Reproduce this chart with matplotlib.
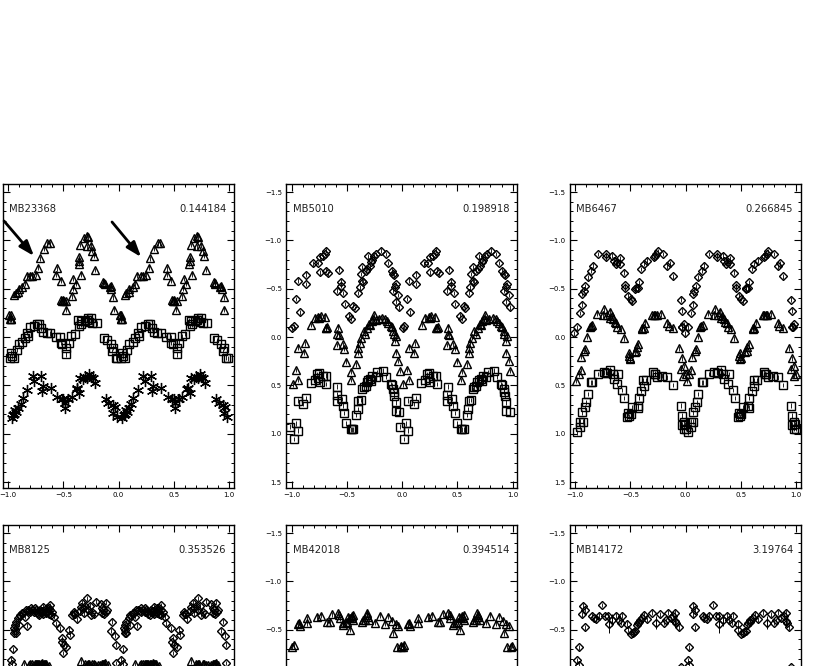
import matplotlib
matplotlib.use("Agg")
import numpy as np
import matplotlib.pyplot as plt
from matplotlib.ticker import MultipleLocator

# MB23368
a_tri_p = [.054, .069, .09, .099, .13, .151, .169, .199, .22, .25, .274, .289, .325, .355, .376,
           .44, .437, .476, .482, .506, .527, .521, .575, .584, .59, .611, .642, .639, .66, .651,
           .687, .711, .723, .711, .747, .762, .777, .789, .861, .873, .922, .934, .952, .958,
           .012, .024, .024, .018, .03, .49, .5, .645, .87, .93]
a_tri_m = [-.436, -.457, -.464, -.498, -.515, -.55, -.636, -.636, -.636, -.643, -.715, -.814, -.911, -.969, -.969,
           -.711, -.646, -.584, -.378, -.375, -.368, -.282, -.423, -.498, -.601, -.55, -.825, -.756, -.646, -.952,
           -1.02, -1.048, -1.03, -.938, -.945, -.893, -.842, -.694, -.574, -.55, -.515, -.498, -.412, -.282,
           -.223, -.223, -.182, -.182, -.19, -.37, -.38, -.79, -.56, -.53]
a_sq_p = [.018, .054, .03, .078, .099, .13, .151, .175, .181, .199, .235, .265, .28, .301, .319, .349, .38,
          .431, .47, .476, .491, .527, .527, .551, .572, .602, .642, .633, .657, .693, .723, .747, .762, .801,
          .867, .892, .928, .952, .943, .973, .988, .04, .71, .735, .66]
a_sq_m = [.214, .214, .162, .134, .076, .048, .007, -.045, -.01, -.103, -.114, -.131, -.131, -.09, -.055, -.038, -.038,
          0, 0, .059, .076, .11, .179, .059, -.01, -.034, -.114, -.172, -.166, -.166, -.2, -.193, -.148, -.141,
          .014, .034, .076, .11, .145, .214, .221, .2, -.175, -.16, -.13]
a_star_p = [.033, .054, .072, .093, .114, .133, .175, .223, .238, .295, .313, .304, .386, .446, .485, .515, .515,
            .545, .575, .627, .645, .651, .681, .717, .735, .765, .786, .886, .907, .946, .967, .952, .982,
            .045, .065, .62, .7, .75, .5]
a_star_m = [.834, .8, .776, .731, .697, .628, .548, .403, .455, .403, .507, .559, .531, .621, .638, .679, .731,
            .645, .621, .524, .576, .421, .431, .428, .386, .421, .472, .638, .679, .707, .72, .79, .824,
            .81, .76, .54, .41, .41, .64]

# MB5010
b_dia_p = [.006, .021, .042, .076, .06, .127, .127, .196, .239, .257, .284, .308, .302, .254, .314, .332,
           .408, .429, .444, .444, .468, .48, .52, .538, .559, .574, .604, .619, .625, .64, .65, .64, .686, .692,
           .707, .746, .767, .807, .852, .876, .906, .918, .927, .918, .949, .937, .967, .943, .973,
           .67, .72, .73]
b_dia_m = [-.09, -.11, -.393, -.255, -.583, -.645, -.548, -.762, -.766, -.824, -.834, -.893, -.859, -.669, -.686, -.659,
           -.479, -.697, -.572, -.531, -.455, -.341, -.221, -.186, -.324, -.3, -.455, -.514, -.652, -.583, -.572, -.721, -.703, -.834,
           -.738, -.841, -.859, -.893, -.859, -.766, -.686, -.652, -.641, -.479, -.548, -.521, -.434, -.366, -.307,
           -.686, -.78, -.8]
b_tri_p = [.012, .042, .06, .06, .121, .109, .178, .211, .242, .263, .302, .308, .323, .42, .414, .429, .408, .465, .477,
           .495, .541, .535, .586, .604, .604, .616, .665, .686, .701, .725, .746, .761, .822, .846, .876, .897, .918,
           .937, .943, .949, .967, .979, .63, .655, .71, .74, .79, .86, .905, .925, .25, .315]
b_tri_m = [.49, .341, .445, .11, .066, .162, -.124, -.2, -.207, -.217, -.21, -.097, -.103, -.097, -.034, -.017, .083, .076, .121,
           .255, .359, .445, .283, .162, .11, .059, -.028, -.097, -.131, -.166, -.228, -.176, -.193, -.183, -.148, -.114, -.062,
           .041, .162, -.01, .248, .352, .01, -.06, -.12, -.19, -.19, -.17, -.1, -.03, -.2, -.09]
b_sq_p = [-.018, .021, .036, .057, .057, .106, .127, .175, .211, .227, .248, .254, .284, .308, .314, .414, .411, .408,
          .453, .465, .477, .495, .535, .556, .586, .601, .604, .625, .64, .67, .695, .731, .761, .776, .828, .858,
          .897, .918, .927, .943, .943, .973, .68, .71, .72, .655, .905, .925, .545, .24]
b_sq_m = [.928, 1.055, .893, .969, .659, .693, .631, .476, .445, .383, .372, .469, .4, .4, .486, .514, .597, .659,
          .641, .71, .786, .893, .955, .955, .807, .745, .659, .652, .538, .503, .445, .4, .417, .366, .348, .41,
          .486, .538, .607, .676, .762, .779, .47, .43, .46, .52, .5, .57, .955, .42]

# MB6467
c_dia_p = [-.006, .018, .048, .063, .063, .079, .094, .115, .145, .163, .208, .281, .284, .335, .35, .381, .405, .405,
           .441, .456, .456, .48, .502, .517, .547, .568, .577, .598, .622, .653, .713, .737, .749, .798, .834, .858,
           .885, .955, .964, .964, .985, .97, .55, .37, .72]
c_dia_m = [-.038, -.1, -.248, -.334, -.445, -.479, -.524, -.617, -.686, -.738, -.859, -.859, -.824, -.841, -.79, -.772, -.755, -.817,
           -.666, -.538, -.503, -.428, -.393, -.369, -.497, -.503, -.566, -.703, -.755, -.79, -.831, -.859, -.886, -.859, -.731, -.762,
           -.628, -.386, -.272, -.107, -.134, -.1, -.51, -.76, -.84]
c_tri_p = [.012, .033, .051, .057, .082, .094, .109, .133, .154, .202, .254, .263, .314, .32, .344, .375, .384, .414, .441,
           .486, .495, .556, .571, .607, .637, .698, .728, .776, .834, .849, .882, .94, .964, .958, .985, 1.0, .979,
           .14, .49, .5, .54, .56, .71, .74, .62, .61, .29, .33, .36]
c_tri_m = [.455, .386, .341, .207, .145, .128, 0, -.103, -.121, -.241, -.224, -.286, -.262, -.2, -.183, -.148, -.103, -.079, .014,
           .197, .231, .145, .076, -.097, -.148, -.228, -.228, -.234, -.148, -.114, -.09, .117, .221, .334, .3, .386, .403,
           -.11, .17, .22, .16, .1, -.23, -.23, -.09, -.08, -.23, -.22, -.16]
c_sq_p = [.018, .048, .048, .069, .063, .088, .103, .115, .148, .208, .26, .29, .32, .341, .35, .39, .381, .426, .447,
          .471, .502, .517, .568, .577, .598, .616, .643, .622, .707, .728, .743, .789, .834, .885, .955, .964, .964,
          .985, 1.0, .985, .994, .49, .48, .155, .28, .72, .57]
c_sq_m = [.986, .928, .876, .876, .779, .728, .676, .59, .469, .383, .366, .372, .338, .383, .434, .383, .486, .548, .631,
          .831, .797, .728, .71, .631, .555, .445, .445, .503, .366, .383, .417, .4, .417, .497, .71, .814, .907,
          .883, .952, .95, .9, .82, .79, .47, .37, .38, .73]

# MB8125
d_dia_p = [.024, .039, .042, .06, .069, .06, .1, .108, .139, .151, .169, .19, .205, .235, .25, .28, .295, .319, .34, .38, .37,
           .386, .416, .431, .47, .491, .485, .506, .527, .497, .551, .56, .581, .596, .62, .657, .672, .717, .687, .723,
           .747, .741, .792, .837, .852, .883, .898, .943, .928, .964, .973, .973,
           .11, .13, .16, .2, .22, .26, .27, .31, .33, .35, .36, .37, .4, .6, .7, .76, .78, .86, .87, .89,
           .07, .09, .18, .24, .29, .32, .345, .38, .05, .055, .61, .65, .68, .85]
d_dia_m = [-.19, -.148, -.299, -.498, -.464, -.55, -.55, -.653, -.67, -.636, -.54, -.698, -.722, -.687, -.704, -.653, -.687, -.739, -.687, -.756, -.722,
           -.653, -.636, -.567, -.515, -.412, -.368, -.344, -.326, -.258, -.498, -.447, -.653, -.687, -.608, -.739, -.78, -.825, -.67, -.704,
           -.653, -.746, -.79, -.766, -.67, -.78, -.704, -.584, -.488, -.436, -.344, -.155,
           -.64, -.67, -.7, -.68, -.7, -.68, -.66, -.69, -.7, -.72, -.69, -.66, -.68, -.66, -.74, -.68, -.66, -.7, -.66, -.68,
           -.58, -.62, -.7, -.72, -.7, -.66, -.67, -.7, -.52, -.47, -.66, -.69, -.72, -.72]
d_tri_p = [.145, .22, .25, .28, .31, .34, .37, .656, .7, .73, .775, .835, .88, .9, .19, .26, .33, .71, .79, .86,
           .2, .24, .27, .295, .325, .72, .76, .81, .85, .87]
d_tri_m = [-.144, -.144, -.144, -.144, -.16, -.144, -.125, -.175, -.144, -.144, -.144, -.135, -.16, -.13, -.135, -.15, -.15, -.13, -.13, -.14,
           -.14, -.15, -.14, -.15, -.14, -.14, -.14, -.13, -.14, -.15]

# MB42018
e_tri_p = [.006, .018, .057, .076, .066, .142, .142, .233, .269, .323, .344, .369, .42, .435, .465, .505, .526, .514, .544,
           .556, .559, .64, .665, .686, .701, .755, .798, .846, .873, .912, .943, .967, .918, .952, .988, .994,
           .49, .47, .43, .65, .69, .68, .53, .55]
e_tri_m = [-.326, -.344, -.56, -.54, -.574, -.619, -.567, -.636, -.646, -.584, -.584, -.66, -.67, -.619, -.55, -.584, -.498, -.636, -.646,
           -.653, -.601, -.584, -.601, -.653, -.601, -.574, -.643, -.56, -.636, -.594, -.56, -.533, -.464, -.32, -.32, -.335,
           -.574, -.57, -.65, -.6, -.63, -.67, -.62, -.62]

# MB14172
f_dia_p = [.018, .033, .033, .069, .063, .088, .088, .154, .169, .193, .215, .245, .275, .299, .305, .335, .372, .396, .426,
           .417, .471, .477, .502, .532, .547, .568, .586, .607, .628, .653, .698, .737, .773, .804, .819, .84, .864, .888,
           .909, .909, .918, .94, .955, .52, .56, .58]
f_dia_m = [-.182, -.137, -.316, -.746, -.66, -.704, -.526, -.643, -.619, -.608, -.643, -.756, -.643, -.643, -.56, -.601, -.643, -.601, -.643,
           -.574, -.56, -.498, -.457, -.481, -.491, -.574, -.601, -.619, -.653, -.608, -.677, -.574, -.66, -.574, -.601, -.677, -.619, -.643,
           -.677, -.594, -.574, -.526, -.11, -.47, -.55, -.58]
f_wide_p = [.305, .737, .909, .335]
f_wide_m = [-.56, -.574, -.594, -.601]
f_wide_e = [.09, .07, .06, .06]

names = ["MB23368", "MB5010", "MB6467", "MB8125", "MB42018", "MB14172"]
periods = ["0.144184", "0.198918", "0.266845", "0.353526", "0.394514", "3.19764"]
bands = [
    [(a_tri_p, a_tri_m, "^"), (a_sq_p, a_sq_m, "s"), (a_star_p, a_star_m, "*")],
    [(b_dia_p, b_dia_m, "D"), (b_tri_p, b_tri_m, "^"), (b_sq_p, b_sq_m, "s")],
    [(c_dia_p, c_dia_m, "D"), (c_tri_p, c_tri_m, "^"), (c_sq_p, c_sq_m, "s")],
    [(d_dia_p, d_dia_m, "D"), (d_tri_p, d_tri_m, "^")],
    [(e_tri_p, e_tri_m, "^")],
    [(f_dia_p, f_dia_m, "D")],
]
y_ticks = [-1.5, -1.0, -0.5, 0.0, 0.5, 1.0, 1.5]
y_labels = ["\u22121.5", "\u22121.0", "\u22120.5", "0.0", "0.5", "1.0", "1.5"]
mark_size = {"^": 6.0, "s": 5.4, "D": 4.5}

col_left = [2.5, 286, 569.5]
row_top = [184, 525]
W, H = 831, 666
ax_w, ax_h = 231, 304

fig = plt.figure(figsize=(W / 100, H / 100), dpi=100)

for i in range(6):
    row, col = i // 3, i % 3
    ax = fig.add_axes([col_left[col] / W, 1 - (row_top[row] + ax_h) / H, ax_w / W, ax_h / H])

    for phase, mag, mark in bands[i]:
        phase = np.array(phase)
        mag = np.array(mag)
        # every point shows up twice, once per cycle
        x = np.concatenate([phase - 1, phase])
        y = np.concatenate([mag, mag])
        if mark == "*":
            ax.errorbar(x, y, yerr=0.02, fmt="none", ecolor="k", elinewidth=0.5)
            ax.plot(x, y, ls="none", marker=(6, 2, 0), ms=8, mec="k", mew=0.95)
        else:
            ax.errorbar(x, y, yerr=0.025, fmt=mark, ms=mark_size[mark], mfc="none", mec="k", mew=1.0,
                        ecolor="k", elinewidth=0.6)

    if i == 5:
        wide_p = np.array(f_wide_p)
        ax.errorbar(np.concatenate([wide_p - 1, wide_p]), f_wide_m + f_wide_m, yerr=f_wide_e + f_wide_e,
                    fmt="none", ecolor="k", elinewidth=0.7)

    ax.set_xlim(-1.05, 1.04)
    ax.set_ylim(1.562, -1.583)
    ax.xaxis.set_major_locator(MultipleLocator(0.5))
    ax.xaxis.set_minor_locator(MultipleLocator(0.1))
    ax.yaxis.set_minor_locator(MultipleLocator(0.1))
    # the lower row runs off the bottom of the picture, no labels down there
    if row == 0:
        ax.set_yticks(y_ticks, labels=y_labels)
    else:
        ax.set_yticks(y_ticks, labels=y_labels[:3] + [""] * 4)
    ax.tick_params(which="major", direction="in", top=True, right=True, length=5, width=0.8,
                   labelsize=5, pad=3)
    ax.tick_params(which="minor", direction="in", top=True, right=True, length=2.5, width=0.7)
    if col == 0:
        ax.tick_params(labelleft=False)
    if row == 1:
        ax.tick_params(labelbottom=False)
    for s in ax.spines.values():
        s.set_linewidth(1.0)

    ax.text(-0.99, -1.32, names[i], fontsize=7.2, va="center", ha="left", color="#222222")
    ax.text(0.975, -1.32, periods[i], fontsize=7.2, va="center", ha="right", color="#222222")

    if i == 0:
        for xy, xytext in [((-0.765, -0.838), (-1.036, -1.2)), ((0.204, -0.827), (-0.059, -1.19))]:
            ax.annotate("", xy=xy, xytext=xytext,
                        arrowprops=dict(arrowstyle="-|>,head_width=0.32,head_length=0.9",
                                        lw=2, color="k", shrinkA=0, shrinkB=0))

fig.savefig("out.png", dpi=100)
